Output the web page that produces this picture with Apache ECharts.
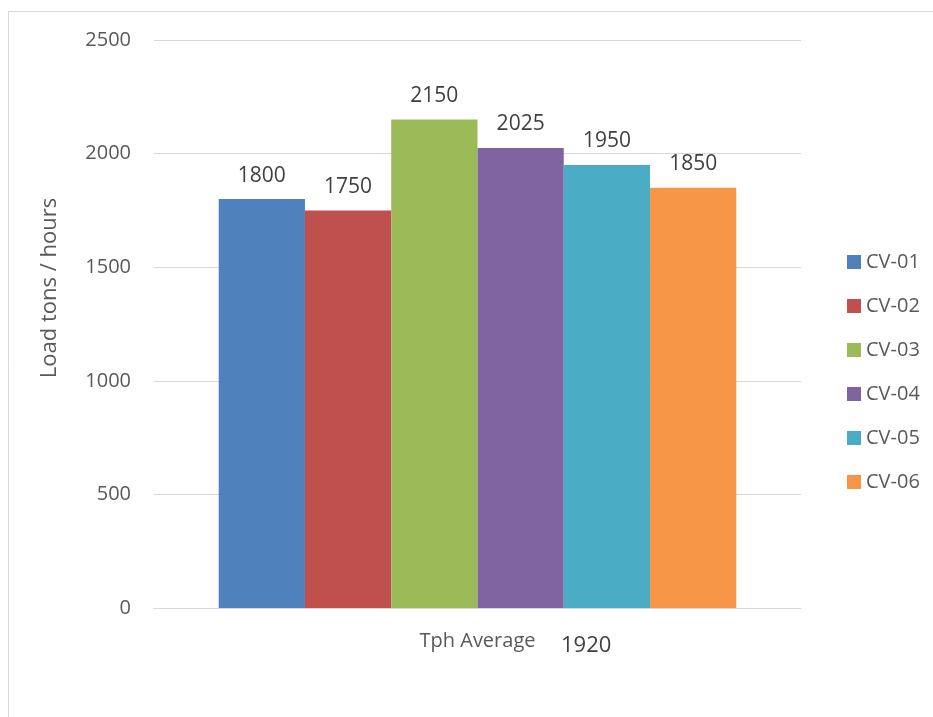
<!DOCTYPE html>
<html>
<head>
    <meta charset="utf-8">
    <title>Tph Average</title>
    <script src="https://cdn.jsdelivr.net/npm/echarts@6/dist/echarts.min.js"></script>
    <style>
        html, body { margin: 0; padding: 0; background: #fff; }
        #chart { width: 933px; height: 717px; }
    </style>
</head>
<body>
    <div id="chart"></div>
    <script>
    // data
    const categories = ['Tph Average'];
    const seriesNames = ['CV-01', 'CV-02', 'CV-03', 'CV-04', 'CV-05', 'CV-06'];
    const seriesValues = [1800, 1750, 2150, 2025, 1950, 1850];
    const colors = ['#4f81bd', '#c0504d', '#9bbb59', '#8064a2', '#4bacc6', '#f79646'];
    const yTicks = [0, 500, 1000, 1500, 2000, 2500];
    const yName = 'Load tons / hours';
    const averageText = '1920';

    const font = '"Open Sans", "Noto Sans", sans-serif';
    const chart = echarts.init(document.getElementById('chart'));

    const series = seriesNames.map((name, i) => ({
        name: name,
        type: 'bar',
        data: [seriesValues[i]],
        barGap: 0,
        barCategoryGap: '20%',
        itemStyle: { color: colors[i] },
        label: {
            show: true,
            position: 'top',
            distance: 13,
            fontFamily: font,
            fontSize: 21,
            color: '#404040'
        }
    }));

    chart.setOption({
        animation: false,
        textStyle: { fontFamily: font },
        grid: { left: 154, right: 132, top: 40, bottom: 109, containLabel: false },
        legend: {
            orient: 'vertical',
            left: 842,
            top: 247,
            itemWidth: 14,
            itemHeight: 14,
            itemGap: 24,
            icon: 'rect',
            textStyle: { fontFamily: font, fontSize: 20, color: '#595959' },
            data: seriesNames
        },
        xAxis: {
            type: 'category',
            data: categories,
            axisTick: { show: false },
            axisLine: { lineStyle: { color: '#d9d9d9', width: 1 } },
            axisLabel: { fontFamily: font, fontSize: 20, color: '#595959', margin: 23 }
        },
        yAxis: {
            type: 'value',
            min: yTicks[0],
            max: yTicks[yTicks.length - 1],
            interval: 500,
            axisLine: { show: false },
            axisTick: { show: false },
            axisLabel: {
                fontFamily: font, fontSize: 20, color: '#595959', margin: 23,
                formatter: v => String(v)
            },
            splitLine: { lineStyle: { color: '#d9d9d9', width: 1 } }
        },
        graphic: [
            {
                type: 'rect',
                shape: { x: 8.5, y: 11.5, width: 1000, height: 800 },
                style: { fill: 'none', stroke: '#d9d9d9', lineWidth: 1 },
                silent: true
            },
            {
                type: 'text',
                x: 50,
                y: 288,
                rotation: Math.PI / 2,
                style: {
                    text: yName, fontFamily: font, fontSize: 22, fill: '#595959',
                    align: 'center', verticalAlign: 'middle'
                }
            },
            {
                type: 'text',
                left: 561,
                top: 635,
                style: { text: averageText, fontFamily: font, fontSize: 22, fill: '#404040' }
            }
        ],
        series: series
    });
    </script>
</body>
</html>
